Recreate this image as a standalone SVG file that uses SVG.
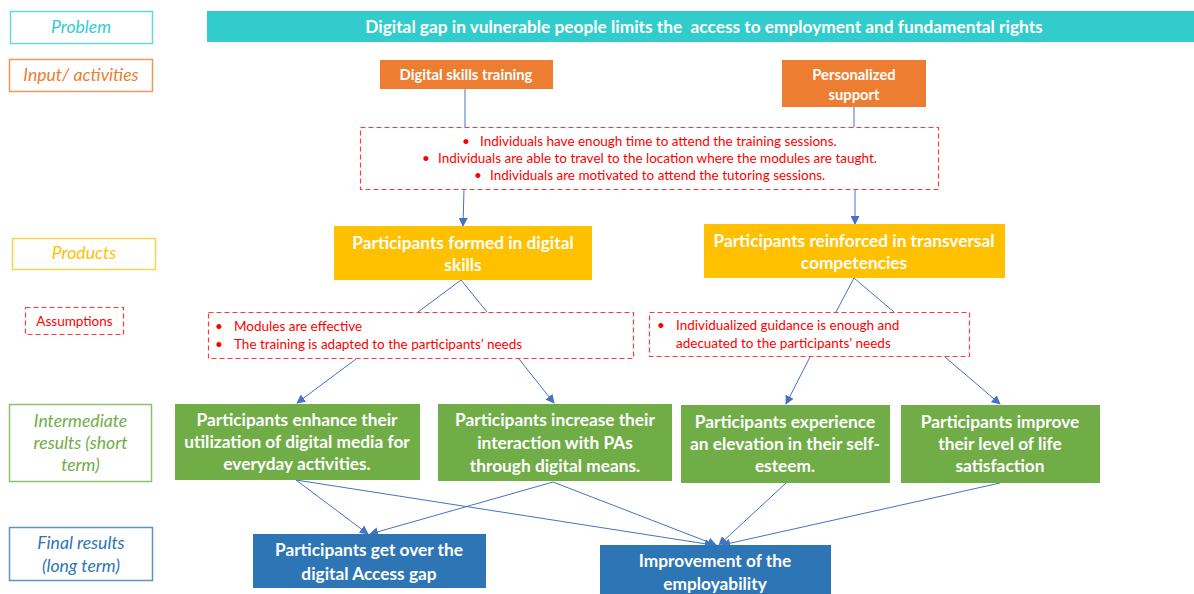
<svg xmlns="http://www.w3.org/2000/svg" width="1194" height="594" viewBox="0 0 1194 594">
<style>
text{font-family:Lato,"Open Sans","Liberation Sans",sans-serif}
.lbl{font-size:17.6px;font-style:italic;text-anchor:middle}
.w{fill:#fff;font-weight:bold;text-anchor:middle;font-size:17.3px}
.r{fill:#ff0000;font-size:13.5px}
.dash{fill:#fff;stroke:#ff3b3b;stroke-width:1.2;stroke-dasharray:5,3}
.c{stroke:#4472c4;stroke-width:1;fill:none}
.a{marker-end:url(#ar)}
</style>
<defs>
<marker id="ar" viewBox="0 0 10 10" refX="9" refY="5" markerWidth="9" markerHeight="9" markerUnits="userSpaceOnUse" orient="auto">
<path d="M0,0 L10,5 L0,10 z" fill="#4472c4"/>
</marker>
</defs>
<rect width="1194" height="594" fill="#fff"/>

<g id="label-problem"><rect x="10.5" y="11.5" width="142" height="32" fill="#fff" stroke="#66dada" stroke-width="1.5"/><text class="lbl" x="81" y="33" fill="#33cccc">Problem</text></g>
<g id="label-input"><rect x="9.5" y="59.5" width="143" height="32" fill="#fff" stroke="#f0975a" stroke-width="1.5"/><text class="lbl" x="81" y="81" fill="#ed7d31">Input/ activities</text></g>
<g id="label-products"><rect x="12.5" y="238.5" width="143" height="31" fill="#fff" stroke="#ffd24d" stroke-width="1.5"/><text class="lbl" x="84" y="259" fill="#ffc000">Products</text></g>
<g id="label-assumptions"><rect x="25.5" y="307.5" width="98" height="27" class="dash"/><text class="r" x="74.5" y="325.5" text-anchor="middle">Assumptions</text></g>
<g id="label-intermediate"><rect x="9.5" y="404.5" width="142" height="77" fill="#fff" stroke="#8cc06a" stroke-width="1.5"/><text class="lbl" fill="#70ad47"><tspan x="80.5" y="427">Intermediate</tspan><tspan x="80.5" y="449">results (short</tspan><tspan x="80.5" y="471">term)</tspan></text></g>
<g id="label-final"><rect x="9.5" y="527.5" width="143" height="53" fill="#fff" stroke="#5b93c8" stroke-width="1.5"/><text class="lbl" fill="#2e75b6"><tspan x="81" y="549">Final results</tspan><tspan x="81" y="572">(long term)</tspan></text></g>

<g id="connectors">
<line class="c" x1="465" y1="89" x2="465" y2="127"/>
<line class="c a" x1="464" y1="189" x2="463" y2="226"/>
<line class="c" x1="854" y1="107" x2="854" y2="127"/>
<line class="c a" x1="855" y1="189" x2="855" y2="224"/>
<line class="c" x1="461" y1="280" x2="418" y2="312"/>
<line class="c" x1="461" y1="280" x2="487" y2="312"/>
<line class="c" x1="854" y1="278" x2="836" y2="312"/>
<line class="c" x1="854" y1="278" x2="894" y2="312"/>
<line class="c a" x1="356" y1="359" x2="297" y2="403"/>
<line class="c a" x1="519" y1="359" x2="554" y2="403"/>
<line class="c a" x1="810" y1="357" x2="786" y2="404"/>
<line class="c a" x1="945" y1="357" x2="1000" y2="404"/>
<line class="c a" x1="296" y1="480" x2="368" y2="534"/>
<line class="c a" x1="296" y1="480" x2="713" y2="545"/>
<line class="c a" x1="553" y1="482" x2="370" y2="534"/>
<line class="c a" x1="553" y1="482" x2="716" y2="545"/>
<line class="c a" x1="786" y1="483" x2="719" y2="545"/>
<line class="c a" x1="1000" y1="483" x2="722" y2="545"/>
</g>

<g id="problem"><rect x="207" y="11" width="987" height="31" fill="#33cccc"/><text class="w" x="704" y="32.5" style="white-space:pre">Digital gap in vulnerable people limits the  access to employment and fundamental rights</text></g>
<g id="digital-skills-training"><rect x="380" y="60" width="173" height="29" fill="#ed7d31"/><text class="w" x="466" y="79.5" style="font-size:14.8px">Digital skills training</text></g>
<g id="personalized-support"><rect x="782" y="60" width="144" height="47" fill="#ed7d31"/><text class="w" style="font-size:14.8px"><tspan x="854" y="79.5">Personalized</tspan><tspan x="854" y="99.5">support</tspan></text></g>
<g id="assumptions-inputs"><rect x="360.5" y="127.5" width="578" height="62" class="dash"/>
<text class="r" x="462" y="146">•</text><text class="r" x="480" y="146">Individuals have enough time to attend the training sessions.</text>
<text class="r" x="422" y="163">•</text><text class="r" x="438" y="163">Individuals are able to travel to the location where the modules are taught.</text>
<text class="r" x="474" y="180">•</text><text class="r" x="490" y="180">Individuals are motivated to attend the tutoring sessions.</text></g>
<g id="formed-digital-skills"><rect x="334" y="226" width="258" height="54" fill="#ffc000"/><text class="w"><tspan x="463" y="249">Participants formed in digital</tspan><tspan x="463" y="271">skills</tspan></text></g>
<g id="reinforced-competencies"><rect x="704" y="224" width="301" height="54" fill="#ffc000"/><text class="w"><tspan x="854" y="247">Participants reinforced in transversal</tspan><tspan x="854" y="269">competencies</tspan></text></g>
<g id="assumptions-digital"><rect x="208.5" y="312.5" width="425" height="46" class="dash"/>
<text class="r" x="215" y="331">•</text><text class="r" x="234" y="331">Modules are effective</text>
<text class="r" x="215" y="349">•</text><text class="r" x="234" y="349">The training is adapted to the participants’ needs</text></g>
<g id="assumptions-guidance"><rect x="649.5" y="312.5" width="320" height="44" class="dash"/>
<text class="r" x="657" y="330">•</text><text class="r" x="676" y="330">Individualized guidance is enough and</text>
<text class="r" x="676" y="348">adecuated to the participants’ needs</text></g>
<g id="enhance-utilization"><rect x="175" y="404" width="245" height="76" fill="#70ad47"/><text class="w"><tspan x="297" y="426">Participants enhance their</tspan><tspan x="297" y="448">utilization of digital media for</tspan><tspan x="297" y="470">everyday activities.</tspan></text></g>
<g id="increase-interaction"><rect x="438" y="404" width="234" height="77" fill="#70ad47"/><text class="w"><tspan x="555" y="426">Participants increase their</tspan><tspan x="555" y="449">interaction with PAs</tspan><tspan x="555" y="472">through digital means.</tspan></text></g>
<g id="self-esteem"><rect x="681" y="405" width="209" height="78" fill="#70ad47"/><text class="w"><tspan x="785" y="428">Participants experience</tspan><tspan x="785" y="450">an elevation in their self-</tspan><tspan x="785" y="472">esteem.</tspan></text></g>
<g id="life-satisfaction"><rect x="901" y="405" width="199" height="78" fill="#70ad47"/><text class="w"><tspan x="1000" y="428">Participants improve</tspan><tspan x="1000" y="450">their level of life</tspan><tspan x="1000" y="472">satisfaction</tspan></text></g>
<g id="access-gap"><rect x="253" y="534" width="233" height="54" fill="#2e75b6"/><text class="w"><tspan x="369" y="556">Participants get over the</tspan><tspan x="369" y="580">digital Access gap</tspan></text></g>
<g id="employability"><rect x="600" y="545" width="231" height="60" fill="#2e75b6"/><text class="w"><tspan x="715" y="567">Improvement of the</tspan><tspan x="715" y="590">employability</tspan></text></g>
</svg>
